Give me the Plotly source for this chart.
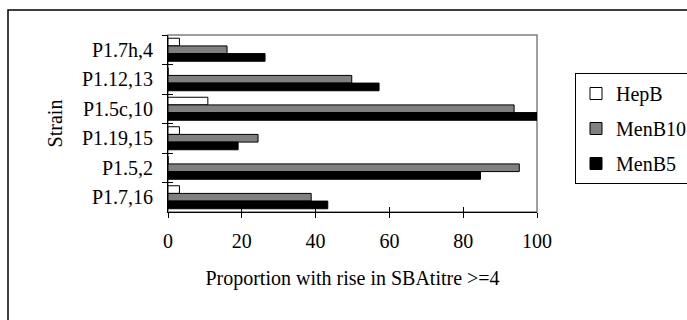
import plotly.graph_objects as go

strains = ["P1.7h,4", "P1.12,13", "P1.5c,10", "P1.19,15", "P1.5,2", "P1.7,16"]
hepb = [3.1, 0, 10.8, 3.1, 0, 3.1]
menb10 = [16, 49.8, 93.8, 24.4, 95.2, 38.8]
menb5 = [26.3, 57.2, 100, 19, 84.7, 43.3]
x_ticks = [0, 20, 40, 60, 80, 100]
x_title = "Proportion with rise in SBAtitre >=4"
y_title = "Strain"

FONT = "Liberation Serif"
FS = 20

fig = go.Figure()
series = [("HepB", hepb, "white"), ("MenB10", menb10, "#808080"), ("MenB5", menb5, "black")]
for name, vals, col in series:
    fig.add_trace(go.Bar(
        y=strains, x=vals, name=name, orientation="h",
        marker=dict(color=col, line=dict(color="black", width=1)),
        legendgroup=name,
    ))

# helper trace so the overlay axes (inside ticks) are drawn
fig.add_trace(go.Scatter(x=[None], y=[None], xaxis="x2", yaxis="y2",
                         showlegend=False, hoverinfo="skip", mode="markers"))

boundaries = [i - 0.5 for i in range(len(strains) + 1)]

fig.update_layout(
    width=687, height=320,
    margin=dict(l=168, r=150, t=35, b=108, autoexpand=False),
    paper_bgcolor="white", plot_bgcolor="white",
    font=dict(family=FONT, size=FS, color="black"),
    barmode="group", bargap=0.22, bargroupgap=0,
    showlegend=True,
    legend=dict(x=575 / 687, y=1 - 73 / 320, xref="container", yref="container",
                xanchor="left", yanchor="top",
                bordercolor="black", borderwidth=1, bgcolor="white",
                font=dict(family=FONT, size=FS), tracegroupgap=6,
                traceorder="grouped"),
    xaxis=dict(range=[0, 100], tickvals=x_ticks, ticks="outside", ticklen=5,
               tickcolor="black", showline=True, linecolor="black", linewidth=1,
               showgrid=False, zeroline=False, ticklabelstandoff=6,
               tickfont=dict(family=FONT, size=FS),
               title=dict(text=x_title, standoff=19, font=dict(family=FONT, size=FS))),
    xaxis2=dict(range=[0, 100], tickvals=x_ticks, ticks="inside", ticklen=5,
                tickcolor="black", overlaying="x", anchor="y2", showticklabels=False,
                showgrid=False, zeroline=False, showline=False, side="bottom"),
    yaxis=dict(autorange="reversed", type="category", ticks="outside", ticklen=5,
               tickson="boundaries", tickcolor="black", showline=True,
               linecolor="black", linewidth=1, showgrid=False, zeroline=False,
               ticklabelstandoff=10, tickfont=dict(family=FONT, size=FS),
               title=dict(text=y_title, standoff=13, font=dict(family=FONT, size=FS))),
    yaxis2=dict(range=[len(strains) - 0.5, -0.5], tickvals=boundaries, ticks="inside",
                ticklen=5, tickcolor="black", overlaying="y", anchor="x2",
                showticklabels=False, showgrid=False, zeroline=False, showline=False,
                side="left"),
    shapes=[
        dict(type="rect", xref="paper", yref="paper", x0=0, y0=0, x1=1, y1=1,
             line=dict(color="#808080", width=1.5), layer="below"),
        dict(type="rect", xref="paper", yref="paper", x0=-0.4336, y0=-0.8, x1=1.6, y1=1.141,
             line=dict(color="black", width=1.5), layer="below"),
    ],
)

fig.write_html("out.html")
